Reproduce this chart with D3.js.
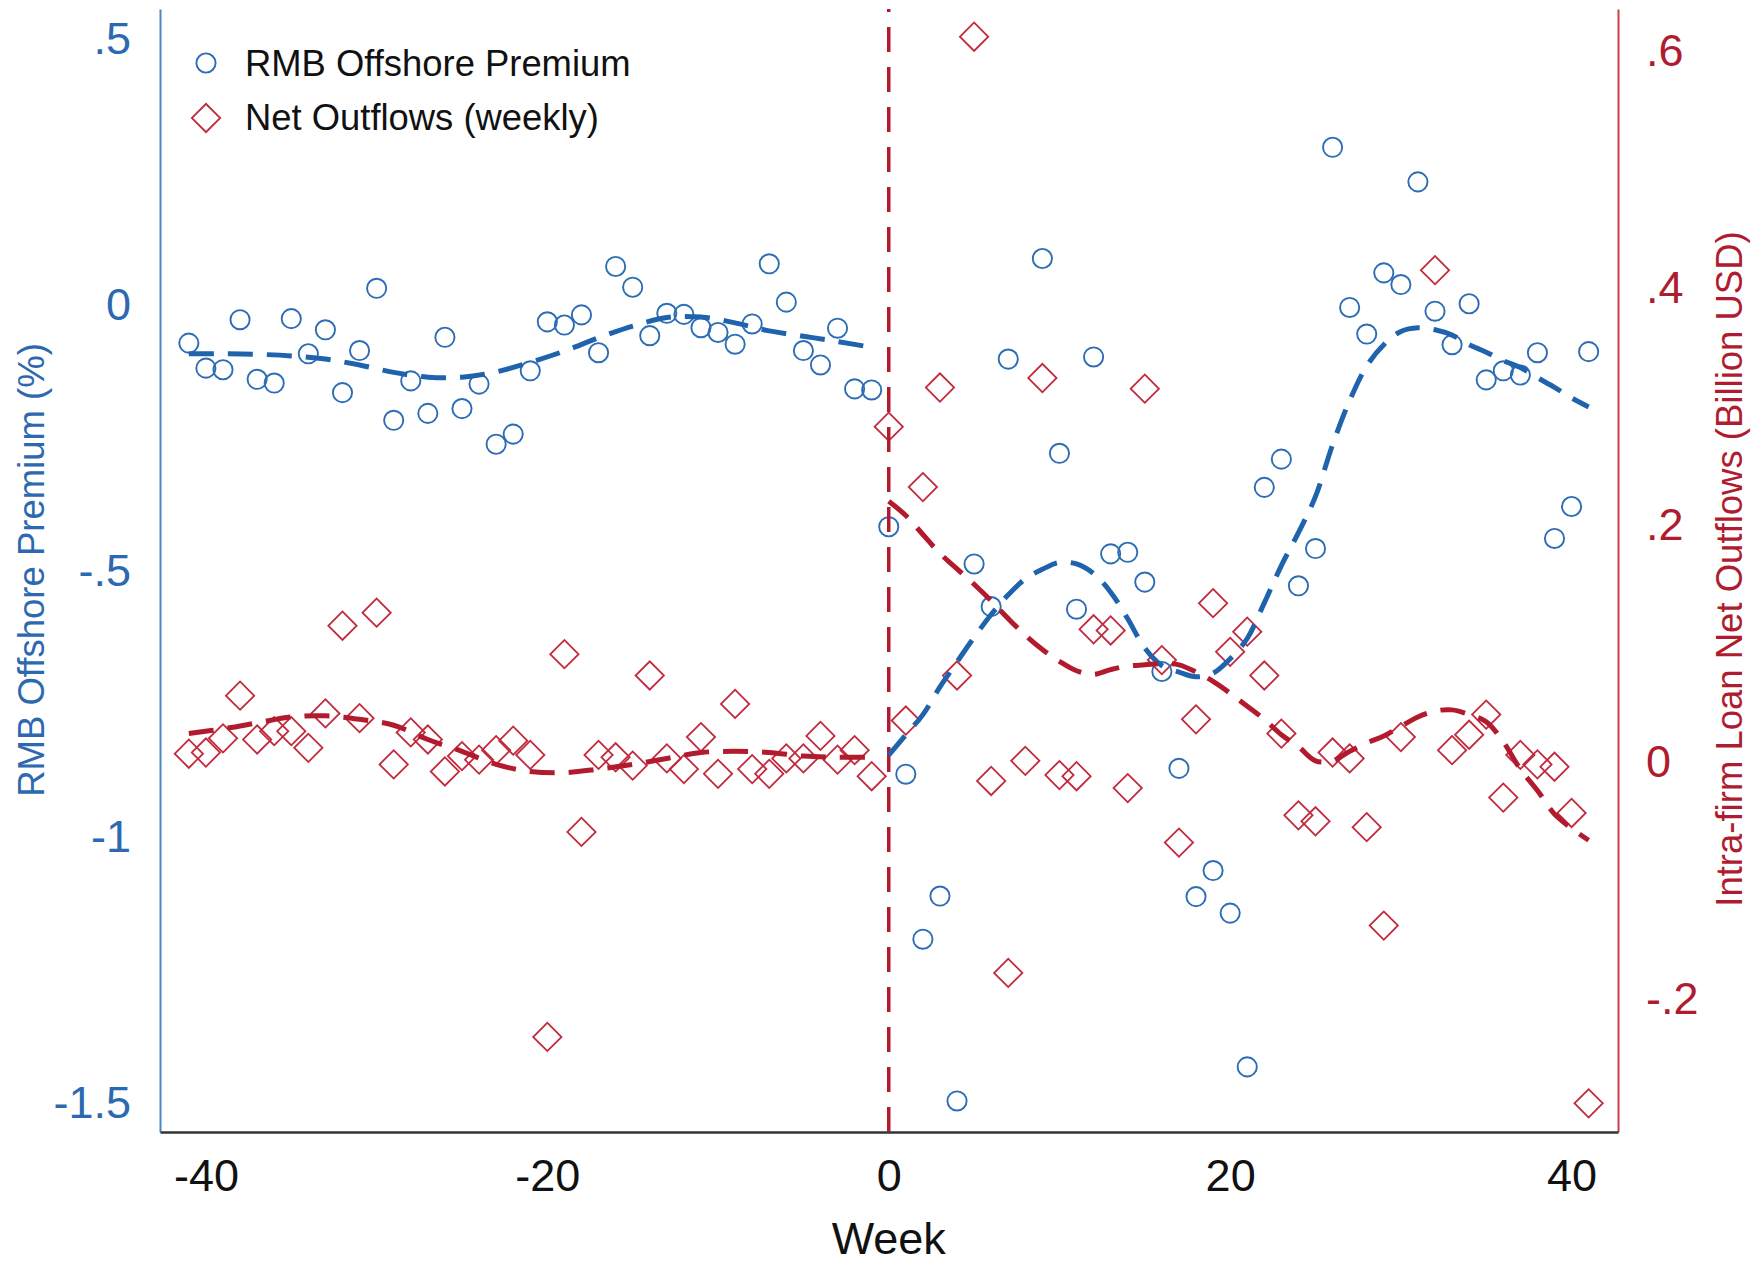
<!DOCTYPE html>
<html>
<head>
<meta charset="utf-8">
<script src="https://cdn.jsdelivr.net/npm/d3@7"></script>
<style>
  html, body { margin: 0; padding: 0; background: #fff; }
  svg { display: block; font-family: "Liberation Sans", Arial, Helvetica, sans-serif; }
</style>
</head>
<body>
<svg id="chart" width="1757" height="1265"></svg>
<script>
// weeks relative to the event (week 0)
var weeks = [-41, -40, -39, -38, -37, -36, -35, -34, -33, -32, -31, -30, -29, -28,
             -27, -26, -25, -24, -23, -22, -21, -20, -19, -18, -17, -16, -15, -14,
             -13, -12, -11, -10, -9, -8, -7, -6, -5, -4, -3, -2, -1, 0,
             1, 2, 3, 4, 5, 6, 7, 8, 9, 10, 11, 12, 13, 14, 15, 16, 17, 18, 19, 20,
             21, 22, 23, 24, 25, 26, 27, 28, 29, 30, 31, 32, 33, 34, 35, 36, 37, 38,
             39, 40, 41];

// RMB offshore premium (%), left axis
var premium = [-0.072, -0.119, -0.122, -0.028, -0.140, -0.147, -0.026, -0.092, -0.047, -0.165,
               -0.086, 0.031, -0.217, -0.143, -0.204, -0.061, -0.195, -0.149, -0.262, -0.243,
               -0.124, -0.032, -0.038, -0.019, -0.090, 0.072, 0.033, -0.058, -0.016, -0.018,
               -0.043, -0.052, -0.074, -0.036, 0.077, 0.005, -0.086, -0.113, -0.044, -0.158,
               -0.160, -0.417,
               -0.882, -1.192, -1.111, -1.496, -0.487, -0.567, -0.102, null, 0.087, -0.279,
               -0.572, -0.098, -0.468, -0.465, -0.521, -0.689, -0.871, -1.112, -1.063, -1.143,
               -1.432, -0.343, -0.290, -0.528, -0.458, 0.296, -0.005, -0.055, 0.060, 0.038,
               0.231, -0.012, -0.075, 0.002, -0.141, -0.124, -0.132, -0.090, -0.439, -0.379,
               -0.088];

// intra-firm loan net outflows (billion USD), right axis
var outflows = [0.007, 0.008, 0.020, 0.056, 0.019, 0.026, 0.026, 0.012, 0.041, 0.115,
                0.037, 0.126, -0.002, 0.025, 0.019, -0.008, 0.005, 0.002, 0.010, 0.018,
                0.006, -0.232, 0.091, -0.059, 0.006, 0.004, -0.003, 0.073, 0.003, -0.006,
                0.021, -0.010, 0.049, -0.006, -0.010, 0.003, 0.003, 0.022, 0.002, 0.010,
                -0.012, 0.283,
                0.035, 0.232, 0.316, 0.073, 0.612, -0.016, -0.178, 0.001, 0.324, -0.011,
                -0.012, 0.112, 0.111, -0.022, 0.315, 0.086, -0.068, 0.036, 0.134, 0.093,
                0.110, 0.073, 0.024, -0.045, -0.050, 0.008, 0.003, -0.055, -0.138, 0.021,
                null, 0.415, 0.010, 0.023, 0.040, -0.030, 0.006, -0.002, -0.004, -0.043,
                -0.288];

// smoothed fits
var fitPreWeeks = [-41, -39, -37, -35, -33, -31, -29, -27, -25, -23, -21, -19, -17, -15,
                   -13, -11, -9, -7, -5, -3, -1];
var premiumFitPre = [-0.092, -0.092, -0.093, -0.096, -0.102, -0.113, -0.127, -0.136, -0.136,
                     -0.126, -0.108, -0.087, -0.062, -0.040, -0.024, -0.023, -0.034, -0.049,
                     -0.059, -0.069, -0.080];
var outflowFitPre = [0.024, 0.028, 0.033, 0.038, 0.039, 0.036, 0.031, 0.019, 0.009, -0.002,
                     -0.008, -0.009, -0.006, -0.002, 0.003, 0.008, 0.009, 0.008, 0.005, 0.004,
                     0.004];

var fitPostWeeks = [0, 1, 2, 3, 4, 5, 6, 7, 8, 9, 10, 11, 12, 13, 14, 15, 16, 17, 18, 19, 20,
                    21, 22, 23, 24, 25, 26, 27, 28, 29, 30, 31, 32, 33, 34, 35, 36, 37, 38,
                    39, 40, 41];
var premiumFitPost = [-0.846, -0.808, -0.770, -0.718, -0.671, -0.625, -0.582, -0.545, -0.515,
                      -0.497, -0.484, -0.487, -0.505, -0.540, -0.590, -0.645, -0.678, -0.690,
                      -0.699, -0.692, -0.665, -0.627, -0.560, -0.490, -0.428, -0.360, -0.263,
                      -0.180, -0.115, -0.075, -0.050, -0.043, -0.047, -0.057, -0.075, -0.089,
                      -0.105, -0.118, -0.137, -0.155, -0.175, -0.192];
var outflowFitPost = [0.220, 0.208, 0.192, 0.176, 0.163, 0.150, 0.136, 0.121, 0.107, 0.095,
                      0.085, 0.077, 0.074, 0.078, 0.081, 0.082, 0.083, 0.082, 0.076, 0.068,
                      0.058, 0.047, 0.036, 0.023, 0.013, 0.001, 0.001, 0.009, 0.016, 0.022,
                      0.030, 0.038, 0.043, 0.044, 0.040, 0.034, 0.017, -0.006, -0.024, -0.044,
                      -0.056, -0.066];

var xTicks = [-40, -20, 0, 20, 40];
var leftTicks = [0.5, 0, -0.5, -1, -1.5];
var leftTickLabels = [".5", "0", "-.5", "-1", "-1.5"];
var rightTicks = [0.6, 0.4, 0.2, 0, -0.2];
var rightTickLabels = [".6", ".4", ".2", "0", "-.2"];

var BLUE = "#2c6db4", BLUE_FIT = "#1f63ad", BLUE_AXIS = "#4a85c6", BLUE_TXT = "#2d69b0";
var RED = "#c22a3e", RED_FIT = "#b21a2e", RED_AXIS = "#c8404f", RED_TXT = "#b01c2f";

var W = 1757, H = 1265;
var P = {left: 160, right: 1618, top: 9, bottom: 1132};

var svg = d3.select("#chart");
svg.append("rect").attr("width", W).attr("height", H).attr("fill", "#fff");

var x = d3.scaleLinear().domain([-42.69, 42.72]).range([P.left, P.right]);
var yL = d3.scaleLinear().domain([-1.5543, 0.5558]).range([P.bottom, P.top]);
var yR = d3.scaleLinear().domain([-0.3122, 0.6354]).range([P.bottom, P.top]);

// axes
var gL = svg.append("g")
  .attr("transform", "translate(" + P.left + ",0)")
  .call(d3.axisLeft(yL).tickValues(leftTicks)
        .tickFormat(function(d, i) { return leftTickLabels[i]; })
        .tickSize(0).tickPadding(29));
gL.select(".domain").attr("stroke", BLUE_AXIS).attr("stroke-width", 2);
gL.selectAll("text").attr("fill", BLUE_TXT).attr("font-size", 45)
  .attr("font-family", "Liberation Sans, Arial, sans-serif");

var gR = svg.append("g")
  .attr("transform", "translate(" + P.right + ",0)")
  .call(d3.axisRight(yR).tickValues(rightTicks)
        .tickFormat(function(d, i) { return rightTickLabels[i]; })
        .tickSize(0).tickPadding(28));
gR.select(".domain").attr("stroke", RED_AXIS).attr("stroke-width", 2);
gR.selectAll("text").attr("fill", RED_TXT).attr("font-size", 45)
  .attr("font-family", "Liberation Sans, Arial, sans-serif");

var gX = svg.append("g")
  .attr("transform", "translate(0," + P.bottom + ")")
  .call(d3.axisBottom(x).tickValues(xTicks)
        .tickFormat(function(d) { return d < 0 ? "-" + Math.abs(d) : String(d); })
        .tickSize(0).tickPadding(27));
gX.select(".domain").attr("stroke", "#333").attr("stroke-width", 2.5);
gX.selectAll("text").attr("fill", "#111").attr("font-size", 45)
  .attr("font-family", "Liberation Sans, Arial, sans-serif");

// axis titles
svg.append("text")
  .attr("x", x(0)).attr("y", 1254)
  .attr("text-anchor", "middle").attr("font-size", 45).attr("fill", "#111")
  .text("Week");
svg.append("text")
  .attr("transform", "translate(44,570) rotate(-90)")
  .attr("text-anchor", "middle").attr("font-size", 36.5).attr("fill", BLUE_TXT)
  .text("RMB Offshore Premium (%)");
svg.append("text")
  .attr("transform", "translate(1742,569) rotate(-90)")
  .attr("text-anchor", "middle").attr("font-size", 36.5).attr("fill", RED_TXT)
  .text("Intra-firm Loan Net Outflows (Billion USD)");

// markers
var pts = weeks.map(function(w, i) { return {w: w, p: premium[i], o: outflows[i]}; });

var diamond = d3.symbol().type(d3.symbolSquare).size(400);
svg.append("g").selectAll("path")
  .data(pts.filter(function(d) { return d.o !== null; }))
  .enter().append("path")
  .attr("d", diamond)
  .attr("transform", function(d) {
    return "translate(" + x(d.w) + "," + yR(d.o) + ") rotate(45)"; })
  .attr("fill", "none").attr("stroke", RED).attr("stroke-width", 1.8);

svg.append("g").selectAll("circle")
  .data(pts.filter(function(d) { return d.p !== null; }))
  .enter().append("circle")
  .attr("cx", function(d) { return x(d.w); })
  .attr("cy", function(d) { return yL(d.p); })
  .attr("r", 9.6)
  .attr("fill", "none").attr("stroke", BLUE).attr("stroke-width", 1.9);

// event line at week 0, dashes start at the bottom
svg.append("line")
  .attr("x1", x(0)).attr("x2", x(0))
  .attr("y1", P.bottom).attr("y2", P.top)
  .attr("stroke", RED_FIT).attr("stroke-width", 3.5)
  .attr("stroke-dasharray", "25,15");

// fitted curves
function fit(ws, vs, y, color) {
  var line = d3.line()
    .x(function(d) { return x(d[0]); })
    .y(function(d) { return y(d[1]); })
    .curve(d3.curveCatmullRom);
  svg.append("path")
    .datum(ws.map(function(w, i) { return [w, vs[i]]; }))
    .attr("d", line)
    .attr("fill", "none").attr("stroke", color).attr("stroke-width", 5)
    .attr("stroke-dasharray", "25,14");
}
fit(fitPreWeeks, premiumFitPre, yL, BLUE_FIT);
fit(fitPostWeeks, premiumFitPost, yL, BLUE_FIT);
fit(fitPreWeeks, outflowFitPre, yR, RED_FIT);
fit(fitPostWeeks, outflowFitPost, yR, RED_FIT);

// legend
var lg = svg.append("g").attr("class", "legend");
lg.append("circle").attr("cx", 206).attr("cy", 63).attr("r", 9.6)
  .attr("fill", "none").attr("stroke", BLUE).attr("stroke-width", 1.9);
lg.append("text").attr("x", 245).attr("y", 76).attr("font-size", 36.4).attr("fill", "#111")
  .text("RMB Offshore Premium");
lg.append("path").attr("d", diamond)
  .attr("transform", "translate(206,118) rotate(45)")
  .attr("fill", "none").attr("stroke", RED).attr("stroke-width", 1.8);
lg.append("text").attr("x", 245).attr("y", 130).attr("font-size", 36.4).attr("fill", "#111")
  .text("Net Outflows (weekly)");
</script>
</body>
</html>
